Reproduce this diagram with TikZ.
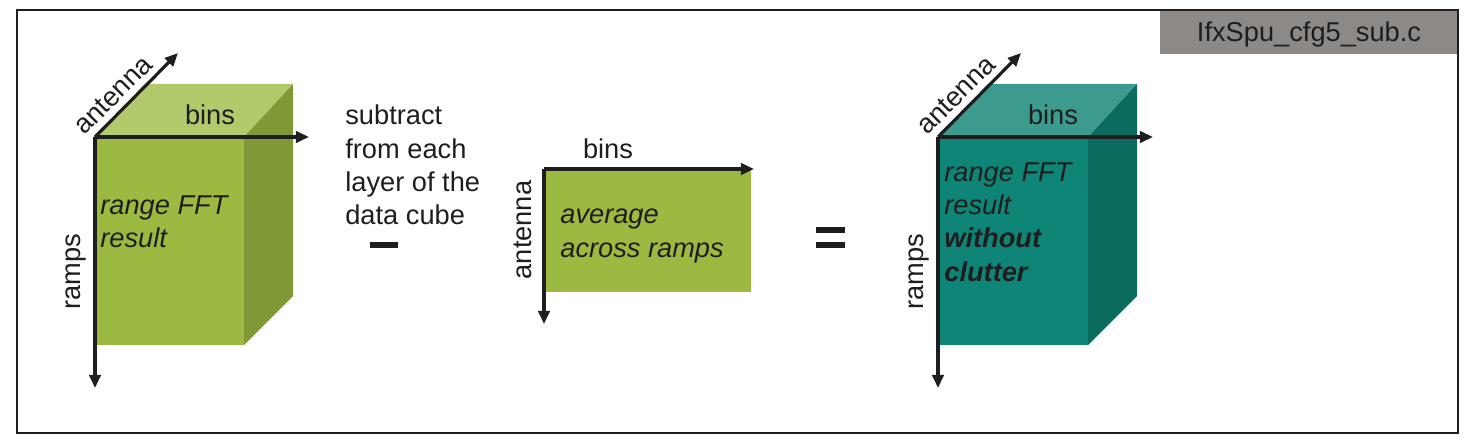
\documentclass[tikz,border=0pt]{standalone}
\usepackage{fontspec}
\setmainfont{Liberation Sans}
\usetikzlibrary{arrows.meta}
\definecolor{gfront}{HTML}{9CBA42}
\definecolor{gtop}{HTML}{B1CA6C}
\definecolor{gside}{HTML}{7E9935}
\definecolor{tfront}{HTML}{0E8577}
\definecolor{ttop}{HTML}{3C9B8E}
\definecolor{tside}{HTML}{0B6B5F}
\definecolor{lblgray}{HTML}{8C8987}
\definecolor{ink}{HTML}{1E1E1E}
\begin{document}
\begin{tikzpicture}[x=0.02cm,y=-0.02cm,
  axisarrow/.style={line width=1.8pt, draw=ink, -{Triangle[length=7.5pt,width=6.5pt]}},
  txt/.style={font=\fontsize{15.5}{19}\selectfont, text=ink, inner sep=0pt},
  celltxt/.style={txt, align=left, anchor=west},
  opbar/.style={fill=ink, draw=none}]
\useasboundingbox (0,0) rectangle (1470,442);
% label box and frame
\fill[lblgray] (1160,10) rectangle (1458,54);
\node[txt] (fname) at (1309,34) {IfxSpu\_cfg5\_sub.c};
\draw[line width=1.3pt, ink] (17,10) rectangle (1458,433);

% ---------- left cube ----------
\coordinate (lo) at (95,137);
\fill[gfront] (95,137) rectangle (244,345);
\fill[gtop] (95,137) -- (145,84) -- (293,84) -- (244,137) -- cycle;
\fill[gside] (244,137) -- (293,84) -- (293,296) -- (244,345) -- cycle;
\coordinate (la) at (178,53);
\coordinate (lb) at (309,137);
\coordinate (lr) at (95,388);
\draw[axisarrow] (lo) -- (la);
\draw[axisarrow] (lo) -- (lb);
\draw[axisarrow] (lo) -- (lr);
\node[txt, rotate=45] (lanten) at (113,95) {antenna};
\node[txt] (lbins) at (210,115) {bins};
\node[txt, rotate=90] (lramps) at (76,272) {ramps};
\node[celltxt, font=\fontsize{15.5}{19}\selectfont\itshape] (ltext) at (100,222) {range FFT\\result};

% ---------- operator text ----------
\node[celltxt] (subtxt) at (345,165) {subtract\\from each\\layer of the\\data cube};
\fill[opbar] (370,242) rectangle (398,248);

% ---------- middle rectangle ----------
\coordinate (mo) at (544,169);
\fill[gfront] (544,169) rectangle (751,292);
\coordinate (mb) at (754,169);
\coordinate (ma) at (544,324);
\draw[axisarrow] (mo) -- (mb);
\draw[axisarrow] (mo) -- (ma);
\node[txt] (mbins) at (608,149) {bins};
\node[txt, rotate=90] (manten) at (523,230) {antenna};
\node[celltxt, font=\fontsize{15.5}{19}\selectfont\itshape] (mtext) at (560,236) {average\\across ramps};

% equals sign
\fill[opbar] (816,227) rectangle (845,233);
\fill[opbar] (816,242) rectangle (845,248);

% ---------- right cube ----------
\coordinate (ro) at (938,137);
\fill[tfront] (938,137) rectangle (1088,345);
\fill[ttop] (938,137) -- (988,84) -- (1137,84) -- (1088,137) -- cycle;
\fill[tside] (1088,137) -- (1137,84) -- (1137,296) -- (1088,345) -- cycle;
\coordinate (ra) at (1021,53);
\coordinate (rb) at (1153,137);
\coordinate (rr) at (938,388);
\draw[axisarrow] (ro) -- (ra);
\draw[axisarrow] (ro) -- (rb);
\draw[axisarrow] (ro) -- (rr);
\node[txt, rotate=45] (ranten) at (956,95) {antenna};
\node[txt] (rbins) at (1053,115) {bins};
\node[txt, rotate=90] (rramps) at (919,272) {ramps};
\node[celltxt, font=\fontsize{15.5}{19}\selectfont\itshape] (rtext) at (944,222) {range FFT\\result\\\textbf{without}\\\textbf{clutter}};
\end{tikzpicture}
\end{document}
